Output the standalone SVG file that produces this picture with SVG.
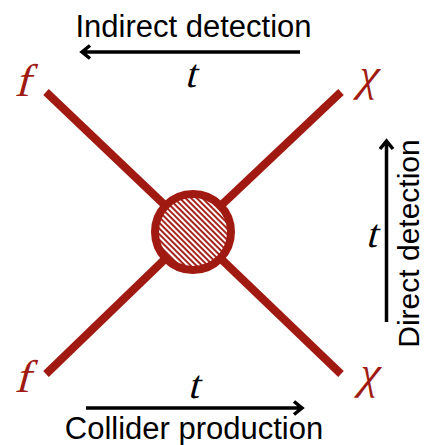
<svg xmlns="http://www.w3.org/2000/svg" width="425" height="445" viewBox="0 0 425 445">
<style>
.leg{stroke:#a11a12;stroke-width:8;fill:none}
.lbl{font-family:"Liberation Sans",Arial,sans-serif;fill:#000}
.t{font-family:"Liberation Serif","Times New Roman",serif;font-style:normal;fill:#000;font-size:40px;text-anchor:middle}
.p{font-family:"Liberation Serif","Times New Roman",serif;font-style:normal;fill:#a11a12;font-size:46px;text-anchor:middle}
.arr{stroke:#000;stroke-width:3.5;fill:none}
</style>
<defs>
<pattern id="hatch" width="4" height="4" patternUnits="userSpaceOnUse" patternTransform="rotate(45)">
<rect x="0" y="0" width="4" height="1.9" fill="#a11a12"/>
</pattern>
</defs>
<rect width="425" height="445" fill="#fff"/>
<g id="connectors">
<line class="leg" x1="46" y1="92" x2="193" y2="232"/>
<line class="leg" x1="341" y1="92" x2="193" y2="232"/>
<line class="leg" x1="46" y1="374" x2="193" y2="232"/>
<line class="leg" x1="341" y1="374" x2="193" y2="232"/>
<path class="arr" d="M300 52 H82 M90 45.5 L82 52 L90 58.5"/>
<path class="arr" d="M86 408 H302 M294 401.5 L302 408 L294 414.5"/>
<path class="arr" d="M386.5 322 V141 M380 149 L386.5 141 L393 149"/>
</g>
<g id="vertex">
<circle cx="193" cy="232" r="38" fill="#fff"/>
<circle cx="193" cy="232" r="38" fill="url(#hatch)" stroke="#a11a12" stroke-width="8"/>
</g>
<g id="f-top"><text class="p" transform="translate(22,96) skewX(-15)">f</text></g>
<g id="chi-top"><text class="p" transform="translate(366,90) skewX(-15)">χ</text></g>
<g id="f-bottom"><text class="p" transform="translate(22,392) skewX(-15)">f</text></g>
<g id="chi-bottom"><text class="p" transform="translate(367,388) skewX(-15)">χ</text></g>
<g id="labels">
<text class="lbl" x="193.5" y="37" font-size="31" text-anchor="middle">Indirect detection</text>
<text class="t" transform="translate(190,87) skewX(-15)">t</text>
<text class="t" transform="translate(193,398) skewX(-15)">t</text>
<text class="t" transform="translate(371,247) skewX(-15)">t</text>
<text class="lbl" x="194" y="439" font-size="31" text-anchor="middle">Collider production</text>
<text class="lbl" font-size="30" text-anchor="middle" transform="translate(419,243.5) rotate(-90)">Direct detection</text>
</g>
</svg>
